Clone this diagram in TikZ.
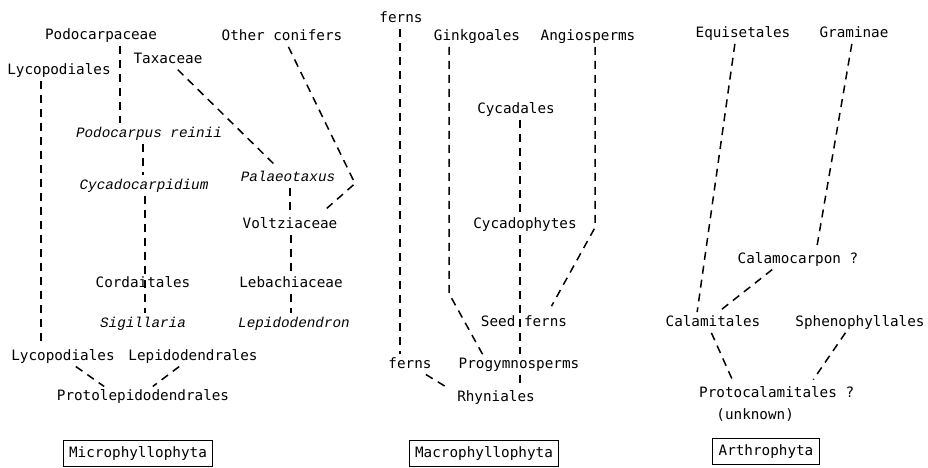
\documentclass[tikz,border=0pt]{standalone}
\usepackage{fontspec}
\setmonofont{DejaVu Sans Mono}
\newfontfamily\slantfont{Liberation Mono}
\tikzset{
  cladogram/.style={
	x=1pt, y=-1pt, % one unit per pixel, y runs downwards
	every node/.style={font=\ttfamily\fontsize{14.3}{22}\selectfont, inner sep=2pt, text height=11pt, text depth=3.5pt, yshift=-1.5pt},
  },
  fossil/.style={font=\slantfont\itshape\fontsize{14.3}{22}\selectfont}, % genera are set in italics
  group/.style={draw, line width=1.1pt, inner xsep=6pt, inner ysep=5.5pt}, % boxed division names
  link/.style={
	dash pattern=on 8pt off 6pt, % typewritten dashes
	line width=1.5pt,
	shorten >=1pt, shorten <=1pt,
  },
}
\begin{document}
\begin{tikzpicture}[cladogram]
\useasboundingbox (0,0) rectangle (928,467);

% Microphyllophyta
\node (podo) at (101,34) {Podocarpaceae};
\node (other) at (282,35) {Other conifers};
\node (taxaceae) at (168,58) {Taxaceae};
\node (lyco1) at (59,69) {Lycopodiales};
\node[fossil] (reinii) at (149,132) {Podocarpus reinii};
\node[fossil] (cycado) at (144,184) {Cycadocarpidium};
\node[fossil] (palaeo) at (288,176) {Palaeotaxus};
\node (voltz) at (290,223) {Voltziaceae};
\node (cordai) at (143,282) {Cordaitales};
\node (lebach) at (291,282) {Lebachiaceae};
\node[fossil] (sigill) at (143,322) {Sigillaria};
\node[fossil] (lepido) at (294,322) {Lepidodendron};
\node (lyco2) at (63,355) {Lycopodiales};
\node (lepidoR) at (193,355) {Lepidodendrales};
\node (protolep) at (143,395) {Protolepidodendrales};
\node[group] (micro) at (138,452) {Microphyllophyta};
\coordinate (kink) at (355,182);

% Macrophyllophyta
\node (fernsT) at (401,17) {ferns};
\node (ginkgo) at (477,35) {Ginkgoales};
\node (angio) at (588,35) {Angiosperms};
\node (cycadales) at (516,108) {Cycadales};
\node (cycadoph) at (525,223) {Cycadophytes};
\node (seedf) at (524,321) {Seed ferns};
\node (fernsB) at (410,363) {ferns};
\node (progym) at (519,363) {Progymnosperms};
\node (rhyn) at (496,396) {Rhyniales};
\node[group] (macro) at (484,452) {Macrophyllophyta};
\coordinate (gbend) at (449,292);
\coordinate (abend) at (595,226);

% Arthrophyta
\node (equis) at (743,32) {Equisetales};
\node (gram) at (854,32) {Graminae};
\node (calamoc) at (798,258) {Calamocarpon ?};
\node (calamit) at (713,321) {Calamitales};
\node (spheno) at (860,321) {Sphenophyllales};
\node[align=left, text height={}, text depth={}, anchor=north west] (protocal) at (697,383) {Protocalamitales ?\\\phantom{Pr}(unknown)};
\node[group] (arth) at (766,450) {Arthrophyta};

\draw[link] ([xshift=-18pt]lyco1.south) edge ([xshift=-22pt]lyco2.north)
	([xshift=19pt]podo.south) edge ([xshift=-29pt]reinii.north)
	([xshift=-6pt]reinii.south) edge ([xshift=-1pt]cycado.north)
	([xshift=1pt]cycado.south) edge ([xshift=2pt]sigill.north)
	([xshift=9pt]taxaceae.south) edge ([xshift=-10pt]palaeo.north)
	([xshift=2pt]palaeo.south) edge (voltz.north)
	([xshift=1pt]voltz.south) edge (lebach.north)
	(lebach.south) edge ([xshift=-3pt]lepido.north)
	([xshift=12pt]lyco2.south) edge ([xshift=-38pt]protolep.north)
	([xshift=-13pt]lepidoR.south) edge ([xshift=9pt]protolep.north)
	([xshift=-1pt]fernsT.south) edge ([xshift=-10pt]fernsB.north)
	([xshift=4pt]cycadales.south) edge ([xshift=-5pt]cycadoph.north)
	([xshift=-5pt]cycadoph.south) edge ([xshift=1pt]progym.north)
	([xshift=1pt]progym.south) edge ([xshift=24pt]rhyn.north)
	([xshift=15pt]fernsB.south) edge ([xshift=-48pt]rhyn.north)
	([xshift=-8pt]equis.south) edge ([xshift=-16pt]calamit.north)
	([xshift=-2pt]gram.south) edge ([xshift=19pt,yshift=4pt]calamoc.north)
	([xshift=-25pt]calamoc.south) edge ([xshift=4pt]calamit.north)
	([xshift=-2pt]calamit.south) edge ([xshift=-44pt,yshift=4pt]protocal.north)
	([xshift=-14pt]spheno.south) edge ([xshift=36pt,yshift=4pt]protocal.north)
;
\draw[link] ([xshift=6pt]other.south) -- (kink) -- ([xshift=36pt,yshift=6pt]voltz.north);
\draw[link] ([xshift=-28pt]ginkgo.south) -- (gbend) -- ([xshift=-36pt]progym.north);
\draw[link] ([xshift=7pt]angio.south) -- (abend) -- ([xshift=27pt,yshift=6pt]seedf.north);
\end{tikzpicture}
\end{document}
